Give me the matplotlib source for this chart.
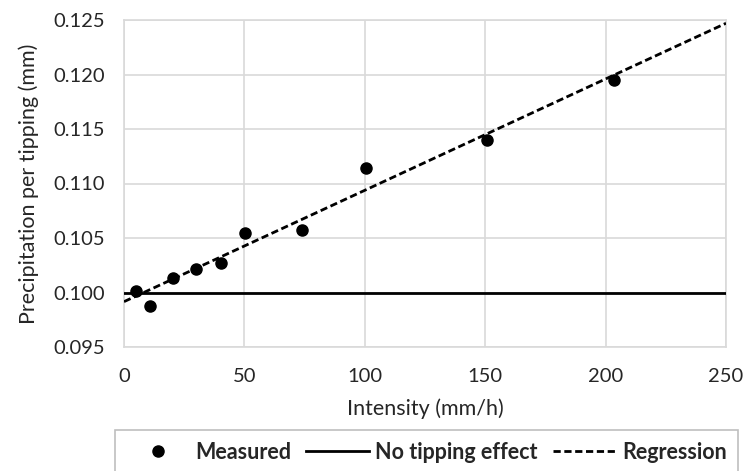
import matplotlib
matplotlib.use("Agg")
import matplotlib.pyplot as plt

# measured points
intensity = [4.8, 10.8, 20.2, 29.9, 40.2, 50.2, 73.8, 100.5, 150.9, 203.6]
precip = [0.1001, 0.0988, 0.1013, 0.1022, 0.1027, 0.1055, 0.1057, 0.1114, 0.1140, 0.1195]

# regression line end points (x = 0 and x = 250)
reg_x = [0, 250]
reg_y = [0.09916, 0.1247]

no_tip_x = [0, 250]
no_tip_y = [0.100, 0.100]

x_ticks = [0, 50, 100, 150, 200, 250]
y_ticks = [0.095, 0.100, 0.105, 0.110, 0.115, 0.120, 0.125]

plt.rcParams['font.family'] = ['Lato', 'DejaVu Sans']
grid_col = '#d9d9d9'
txt_col = '#262626'

fig = plt.figure(figsize=(7.44, 4.71), dpi=100)
ax = fig.add_axes([124/744, 1 - 347/471, 602/744, 327/471])

ax.plot(intensity, precip, 'o', color='black', markersize=8, label='Measured', zorder=4)
ax.plot(no_tip_x, no_tip_y, '-', color='black', linewidth=2.0, label='No tipping effect', zorder=3)
ax.plot(reg_x, reg_y, color='black', linewidth=2.0, dashes=(2.6, 1.3), label='Regression', zorder=3)

ax.set_xlim(0, 250)
ax.set_ylim(0.095, 0.125)
ax.set_xticks(x_ticks)
ax.set_yticks(y_ticks)
ax.set_yticklabels(['%.3f' % v for v in y_ticks])
ax.tick_params(length=0, labelsize=14.5, colors=txt_col)
ax.tick_params(axis='y', pad=14)
ax.tick_params(axis='x', pad=15)
ax.grid(True, color=grid_col, linewidth=1.2)
ax.set_axisbelow(True)
for s in ax.spines.values():
    s.set_color(grid_col)
    s.set_linewidth(1.2)

ax.set_xlabel('Intensity (mm/h)', fontsize=15.5, color=txt_col, labelpad=10)
ax.set_ylabel('Precipitation per tipping (mm)', fontsize=15.5, color=txt_col, labelpad=10)

leg = fig.legend(loc='upper center', ncol=3,
                 bbox_to_anchor=(426.5/744, 1 - 430/471),
                 bbox_transform=fig.transFigure,
                 fancybox=False, edgecolor='#bfbfbf', framealpha=1,
                 prop={'weight': 'bold', 'size': 15.5}, handlelength=2.9,
                 handletextpad=0.3, columnspacing=0.7, borderpad=0.55,
                 borderaxespad=0)
leg.get_frame().set_linewidth(1.2)
for t in leg.get_texts():
    t.set_color(txt_col)

plt.savefig('out.png', format='png', dpi=100)
